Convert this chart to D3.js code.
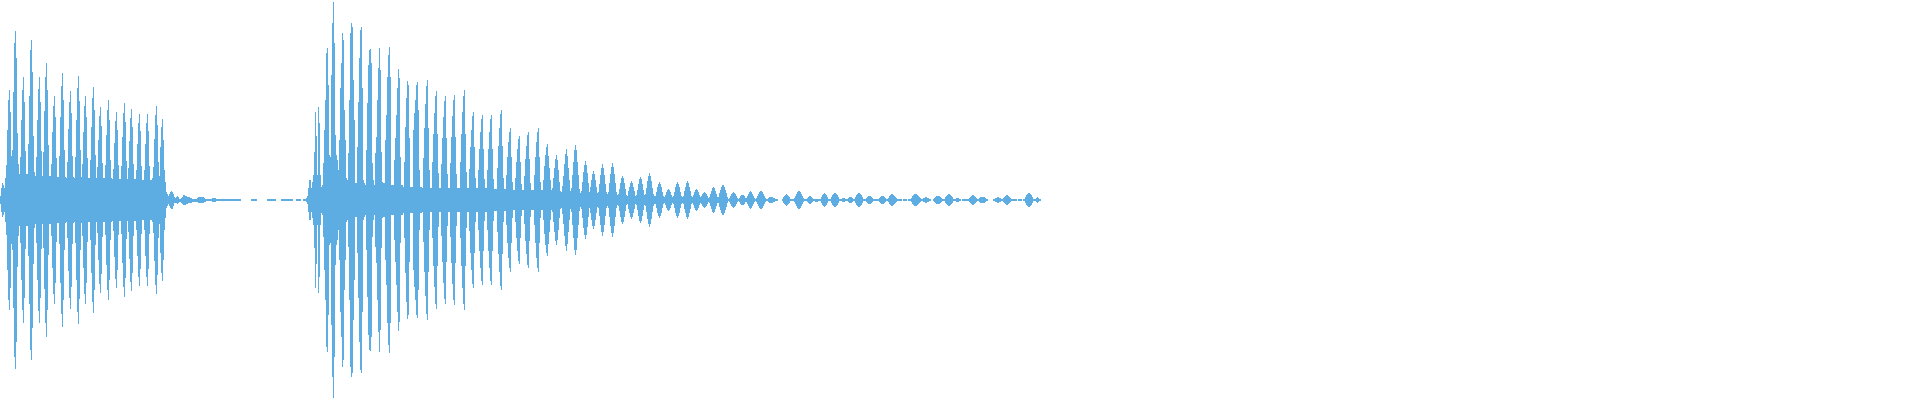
<!DOCTYPE html>
<html>
<head>
<meta charset="utf-8">
<script src="https://cdn.jsdelivr.net/npm/d3@7"></script>
<style>
  html, body { margin: 0; padding: 0; background: #fff; overflow: hidden; }
</style>
</head>
<body>
<div id="waveform"></div>
<script>
// Peak levels per column, in percent of full scale (symmetric around zero)

// First hit, columns 0-167
const hitOnePeaks = [
  2, 6, 8.5, 7.5, 6, 11, 17.5, 35, 50, 55,
  44, 22, 25, 54, 78.5, 84.5, 71, 33.5, 18, 13,
  21.5, 40, 55, 61.5, 49, 24.5, 13, 13, 28, 52,
  75, 80, 64, 32, 14, 12, 21.5, 40, 55.5, 61.5,
  49, 24.5, 12, 24, 44.5, 61.5, 68.5, 55, 27.5, 12,
  12, 18, 34, 47, 52, 41.5, 21, 11.5, 11.5, 22,
  41.5, 57, 63.5, 50, 25, 11.5, 11, 19, 35.5, 49,
  54.5, 43.5, 22, 11.5, 11, 21.5, 40, 56, 62, 49.5,
  25, 11.5, 18, 34, 47, 52, 41.5, 21, 11, 11,
  20, 36.5, 51, 56.5, 45, 22.5, 11, 16.5, 30, 42,
  46.5, 37, 18.5, 11, 11, 17.5, 32.5, 45, 50, 40,
  20, 11, 10.5, 15.5, 28.5, 39.5, 44, 35, 17.5, 10.5,
  10.5, 17, 31.5, 43.5, 48.5, 39, 19.5, 10.5, 16, 29.5,
  41, 45.5, 36.5, 18, 10.5, 10.5, 15, 28, 38.5, 43,
  34.5, 17, 10, 10, 15, 28, 38.5, 43, 34.5, 17,
  10, 10, 11, 16.5, 30.5, 42.5, 47, 37.5, 19, 12,
  26.5, 36.5, 40.5, 30, 15, 9, 4, 3
];

// Ring-out and near silence, columns 168-309
const hitOneTail = [
  2, 3, 4, 4.5, 4.25, 3, 1.5, 1.25, 1.5, 2,
  1.5, 0.75, 0.75, 1.25, 1.75, 2.35, 2.35, 2.25, 2, 1.75,
  1.5, 1.5, 1.25, 1.25, 0.75, 0.75, 0.75, 0.75, 0.75, 1,
  1.3, 1.3, 1.3, 1.3, 1.3, 1.3, 1, 0.75, 0.65, 0.65,
  0.65, 0.65, 0.65, 0.65, 0.9, 0.9, 0.9, 0.9, 0.65, 0.65,
  0.65, 0.65, 0.5, 0.5, 0.5, 0.5, 0.5, 0.5, 0.5, 0.65,
  0.65, 0.65, 0.65, 0.65, 0.65, 0.5, 0.5, 0.5, 0.5, 0.5,
  0.35, 0.35, 0.35, 0, 0, 0, 0, 0, 0, 0,
  0, 0, 0, 0.35, 0.35, 0.35, 0.35, 0.35, 0.35, 0,
  0, 0, 0, 0, 0, 0, 0, 0, 0, 0.35,
  0.35, 0.35, 0.35, 0.35, 0.35, 0.35, 0.35, 0.35, 0, 0,
  0, 0, 0, 0.35, 0.35, 0.35, 0.35, 0.35, 0.35, 0.35,
  0.35, 0.35, 0.35, 0.35, 0.35, 0, 0, 0, 0.4, 0.4,
  0.6, 0.4, 0.4, 0, 0, 0.35, 0.35, 0.5, 1, 2,
  6, 10
];

// Second hit, columns 310-542
const hitTwoPeaks = [
  10, 6, 9, 12.5, 24, 44, 32, 12.5, 46.5, 38.5,
  12.5, 6.5, 7.5, 18.5, 35, 50, 73.5, 76, 57.5, 22.5,
  21.5, 62.5, 88.5, 99, 78.5, 32.5, 22.5, 20, 15, 30,
  56, 68.5, 83.5, 80, 45, 30, 11, 10, 23.5, 50,
  83.5, 88.5, 86.5, 60, 40, 8.5, 8.5, 26.5, 49, 71,
  85, 86.5, 56, 10, 8.5, 7.5, 25, 48.5, 67.5, 75,
  75.5, 68.5, 18.5, 10, 7.5, 23.5, 31.5, 50, 66, 76,
  65, 24, 9, 8.5, 8.5, 30, 42.5, 61.5, 72.5, 76.5,
  61.5, 7.5, 7.5, 7.5, 20, 31, 42.5, 56, 65.5, 61,
  21.5, 7.5, 7.5, 6.5, 19, 36.5, 51, 59.5, 57.5, 31,
  6.5, 6.5, 6.5, 35, 43.5, 50, 57.5, 59, 45, 15,
  6.5, 6.5, 6, 21, 36, 48, 57, 60, 36, 15,
  6, 6, 19, 33, 43.5, 52, 54.5, 33, 13.5, 6,
  6, 18, 31, 41.5, 49.5, 52, 31, 13, 6, 6,
  18.5, 31.5, 42, 50, 52.5, 31.5, 13, 6, 6, 6,
  19, 33, 44, 52, 55, 33, 14, 6, 6, 15.5,
  26.5, 35, 42, 44, 26.5, 11, 6, 6, 15, 25.5,
  34, 40.5, 42.5, 25.5, 10.5, 6, 6, 15, 25.5, 34,
  40.5, 42.5, 25.5, 10.5, 5.5, 5.5, 5.5, 16, 27, 36,
  43, 45, 27, 11, 5.5, 5.5, 12.5, 21.5, 29, 34,
  36, 21.5, 9, 5, 5, 11, 19, 25.5, 30.5, 32,
  19, 8, 5, 5, 12, 20.5, 27, 32.5, 34, 20.5,
  8.5, 5, 5, 5, 12.5, 21.5, 29, 34, 36, 21.5,
  9, 5, 5
];

// Decay of the second hit, columns 543-1040
const hitTwoDecay = [
  10, 17, 22.5, 26.5, 28, 22, 16, 10, 5, 6,
  11, 16, 20.5, 22.5, 20, 15, 9, 4.5, 4, 7,
  12, 18, 23, 25.5, 22, 16, 10, 4.5, 6, 12.5,
  19, 25, 27.5, 25, 19, 12.5, 5.5, 3.5, 4.5, 9,
  14, 17.5, 19.5, 17.5, 13.5, 8.5, 4, 6.5, 10, 13,
  14.5, 13, 10, 6.5, 3.5, 4, 8, 12.5, 16, 18,
  16, 12.5, 8, 4, 3, 4, 8.5, 13, 16.5, 18.5,
  16.5, 13, 8.5, 4, 2.5, 3, 5.5, 8.5, 11, 12,
  11, 8.5, 5.5, 2.5, 2, 4.5, 6.5, 8.5, 9.5, 8.5,
  6.5, 4.5, 2, 2.5, 5, 8, 10.5, 11.5, 10.5, 8,
  5, 2.5, 3, 6, 9.5, 12, 13.5, 12, 9.5, 6,
  3, 2, 2, 4, 6.5, 8, 9, 8, 6.5, 4,
  2, 1.5, 2.5, 4, 5, 5.5, 5, 4, 2.5, 1.5,
  2, 4, 6.5, 8, 9, 8, 6.5, 4, 2, 1.5,
  2, 4.5, 6.5, 8.5, 9.5, 8.5, 6.5, 4.5, 2, 1.5,
  2.5, 4, 5, 5.5, 5, 4, 2.5, 1.5, 1.8, 2.8,
  3.6, 4, 3.6, 2.8, 1.8, 0.8, 1.3, 3, 4.5, 6,
  6.5, 6, 4.5, 3, 1.3, 1.5, 3.5, 5, 6.5, 7.5,
  7.5, 6.5, 5, 3.5, 1.5, 0.6, 0.8, 1.8, 2.8, 3.6,
  4, 3.6, 2.8, 1.8, 0.8, 0.6, 1.1, 1.8, 2.3, 2.5,
  2.3, 1.8, 1.1, 0.9, 2, 3.2, 4, 4.5, 4, 3.2,
  2, 0.9, 0.5, 0.9, 2, 3.2, 4, 4.5, 4.5, 4,
  3.2, 2, 0.9, 0.5, 0.5, 1, 1.4, 1.65, 1.65, 1.4,
  1, 0.8, 0.5, 0.5, 0.35, 0, 0, 0, 0, 0.6,
  1.4, 2.1, 2.7, 3, 2.7, 2.1, 1.4, 0.6, 0.35, 0.35,
  0.35, 0.9, 2, 3.2, 4, 4.5, 4.5, 4, 3.2, 2,
  0.9, 0.5, 0.5, 0.5, 1, 1.7, 2.15, 2, 1.5, 1,
  0.5, 0.35, 0.75, 0.75, 0.75, 0.5, 0.35, 0.7, 1.6, 2.5,
  3.2, 3.5, 3.2, 2.5, 1.6, 0.7, 0.5, 0.7, 1.6, 2.5,
  3.2, 3.5, 3.5, 3.2, 2.5, 1.6, 0.7, 0.35, 0.7, 1,
  1, 1, 0.7, 0.35, 0.6, 1.1, 1.4, 1.5, 1.4, 1.1,
  0.6, 0.7, 1.5, 2.3, 3, 3.35, 3.35, 3, 2.3, 1.5,
  0.7, 0.5, 0.5, 1, 1.6, 2, 2.15, 2, 1.6, 1,
  0.5, 0.35, 0.35, 0.35, 0.35, 0.5, 1, 1.6, 2, 2.15,
  2, 1.6, 1, 0.5, 0.5, 1.1, 1.8, 2.4, 2.8, 2.85,
  2.6, 2, 1.4, 0.8, 0.5, 0.35, 0.35, 0.35, 0.35, 0,
  0.35, 0.35, 0.35, 0.35, 0, 0.35, 0.35, 0.6, 1.2, 1.9,
  2.5, 2.9, 3, 3, 2.7, 2.1, 1.4, 0.8, 0.5, 0.5,
  0.9, 1.2, 1.35, 1.35, 1.2, 0.9, 0.6, 0.35, 0, 0,
  0.5, 0.9, 1.4, 1.8, 2.1, 2.15, 2, 1.6, 1.1, 0.6,
  0.35, 0.6, 1.3, 2, 2.6, 3, 3, 2.6, 2, 1.3,
  0.6, 0.35, 0.7, 1, 1, 1, 0.7, 0.35, 0, 0.35,
  0.35, 0.35, 0.35, 0.35, 0.35, 0.5, 1.1, 1.7, 2.2, 2.5,
  2.5, 2.2, 1.7, 1.1, 0.5, 0.5, 0.9, 1.3, 1.6, 1.65,
  1.65, 1.3, 0.9, 0.5, 0.35, 0, 0, 0, 0, 0,
  0.35, 0.6, 1, 1.2, 1.35, 1.35, 1.2, 1, 0.6, 0.5,
  1.1, 1.7, 2.2, 2.5, 2.5, 2.2, 1.7, 1.1, 0.5, 0.35,
  0.35, 0.35, 0.35, 0.35, 0, 0.35, 0.35, 0.35, 0.35, 0,
  0.35, 0.6, 1.4, 2.3, 3, 3.35, 3.35, 3, 2.3, 1.4,
  0.6, 0.5, 0.7, 1.2, 1.35, 1.2, 0.6, 0.35
];

// Configuration
const config = {
  width: 1920,
  height: 400,
  color: '#5DADE2',
  pixelsPerPeak: 1
};

const peaks = [].concat(hitOnePeaks, hitOneTail, hitTwoPeaks, hitTwoDecay);

function drawWaveform() {
  const svg = d3.select("#waveform")
      .append("svg")
      .attr("width", config.width)
      .attr("height", config.height)
      .style("display", "block");

  const x = d3.scaleLinear()
      .domain([0, config.width / config.pixelsPerPeak])
      .range([0, config.width]);

  const y = d3.scaleLinear()
      .domain([-100, 100])
      .range([config.height, 0]);

  const bars = peaks
      .map((v, i) => ({ i, v }))
      .filter(d => d.v > 0);

  svg.append("g")
      .attr("fill", config.color)
      .attr("shape-rendering", "crispEdges")
      .selectAll("rect")
      .data(bars)
      .enter()
      .append("rect")
      .attr("x", d => x(d.i))
      .attr("width", d => x(d.i + 1) - x(d.i))
      .attr("y", d => y(d.v))
      .attr("height", d => y(-d.v) - y(d.v));
}

drawWaveform();
</script>
</body>
</html>
